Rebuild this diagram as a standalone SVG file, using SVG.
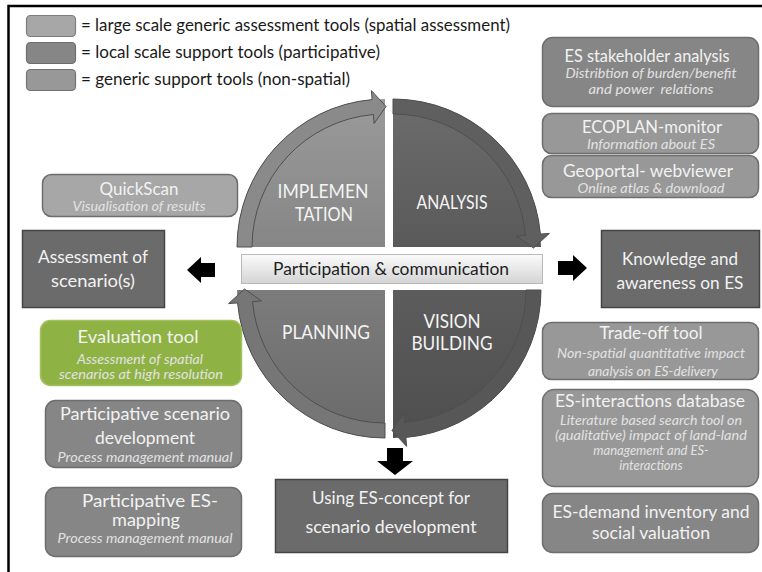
<svg xmlns="http://www.w3.org/2000/svg" width="762" height="572" viewBox="0 0 762 572">
  <defs>
    <style>
      text { font-family: Lato, "Open Sans", "Liberation Sans", sans-serif; text-anchor: middle; }
      .legend { font-size: 16.5px; fill: #1a1a1a; text-anchor: start; }
      .ttl { font-size: 17px; fill: #f2f2f2; }
      .sub { font-size: 13px; font-style: italic; fill: #e2e2e2; }
      .big { font-size: 18px; fill: #f2f2f2; }
      .phase { font-size: 19.5px; fill: #f4f4f4; }
      .box { stroke: #6e6e6e; stroke-width: 1.5; }
      .light { fill: #a7a7a7; }
      .mid { fill: #989898; }
      .local { fill: #868686; }
      .dark { fill: #6b6b6b; stroke: #454545; stroke-width: 1.5; }
      .green { fill: #8fb244; stroke: #a3c25c; stroke-width: 1.5; }
      .band { stroke: #4f4f4f; stroke-width: 1; }
      .blk { fill: #000; }
    </style>
    <linearGradient id="barGrad" x1="0" y1="0" x2="0" y2="1">
      <stop offset="0" stop-color="#fbfbfb"/>
      <stop offset="1" stop-color="#d4d4d4"/>
    </linearGradient>
    <linearGradient id="gImpl" x1="0" y1="0" x2="0" y2="1">
      <stop offset="0" stop-color="#9a9a9a"/>
      <stop offset="1" stop-color="#868686"/>
    </linearGradient>
    <linearGradient id="gAna" x1="0" y1="0" x2="0" y2="1">
      <stop offset="0" stop-color="#6c6c6c"/>
      <stop offset="1" stop-color="#5a5a5a"/>
    </linearGradient>
    <linearGradient id="gPlan" x1="0" y1="0" x2="0" y2="1">
      <stop offset="0" stop-color="#7c7c7c"/>
      <stop offset="1" stop-color="#6a6a6a"/>
    </linearGradient>
    <linearGradient id="gVis" x1="0" y1="0" x2="0" y2="1">
      <stop offset="0" stop-color="#5c5c5c"/>
      <stop offset="1" stop-color="#4e4e4e"/>
    </linearGradient>
  </defs>

  <rect width="762" height="572" fill="#ffffff"/>
  <!-- frame (open on right and bottom) -->
  <path d="M8.5,572 V6 H762" fill="none" stroke="#000" stroke-width="2.5"/>

  <!-- legend -->
  <g id="legend">
    <rect x="26.5" y="15.5" width="49" height="21" rx="4" class="light" stroke="#7d7d7d" stroke-width="1.2"/>
    <rect x="26.5" y="42.5" width="49" height="21" rx="4" class="local" stroke="#6d6d6d" stroke-width="1.2"/>
    <rect x="26.5" y="69.5" width="49" height="21" rx="4" class="mid" stroke="#747474" stroke-width="1.2"/>
    <text class="legend" x="81" y="31" textLength="429" lengthAdjust="spacingAndGlyphs">= large scale generic assessment tools (spatial assessment)</text>
    <text class="legend" x="81" y="58" textLength="299" lengthAdjust="spacingAndGlyphs">= local scale support tools (participative)</text>
    <text class="legend" x="81" y="85" textLength="269" lengthAdjust="spacingAndGlyphs">= generic support tools (non-spatial)</text>
  </g>

  <!-- cycle quadrants -->
  <g id="implementation">
    <path d="M385,247 L237,247 A148,148 0 0 1 385,99 Z" fill="url(#gImpl)"/>
    <text class="phase" x="323" y="198" textLength="91" lengthAdjust="spacingAndGlyphs">IMPLEMEN</text>
    <text class="phase" x="324" y="221" textLength="58" lengthAdjust="spacingAndGlyphs">TATION</text>
  </g>
  <g id="analysis">
    <path d="M393,247 L393,99 A148,148 0 0 1 541,247 Z" fill="url(#gAna)"/>
    <text class="phase" x="452" y="209" textLength="71" lengthAdjust="spacingAndGlyphs">ANALYSIS</text>
  </g>
  <g id="planning">
    <path d="M385,290 L385,438 A148,148 0 0 1 237,290 Z" fill="url(#gPlan)"/>
    <text class="phase" x="326" y="339" textLength="88" lengthAdjust="spacingAndGlyphs">PLANNING</text>
  </g>
  <g id="vision-building">
    <path d="M393,290 L541,290 A148,148 0 0 1 393,438 Z" fill="url(#gVis)"/>
    <text class="phase" x="452" y="328" textLength="57" lengthAdjust="spacingAndGlyphs">VISION</text>
    <text class="phase" x="452" y="350" textLength="81" lengthAdjust="spacingAndGlyphs">BUILDING</text>
  </g>

  <g id="participation">
    <rect x="241.5" y="254.5" width="301" height="29" fill="url(#barGrad)" stroke="#b8b8b8" stroke-width="1"/>
    <text x="391" y="275" font-size="17" fill="#1e1e1e" textLength="236" lengthAdjust="spacingAndGlyphs">Participation &amp; communication</text>
  </g>

  <!-- connectors: cycle arrows and outcome arrows -->
  <g id="connectors">
    <path class="band" fill="#8a8a8a" d="M237,247 A148,148 0 0 1 372.1,99.6 L371.4,90.6 L386,106.5 L374.1,123.5 L373.4,114.5 A133,133 0 0 0 252,247 Z"/>
    <path class="band" fill="#5f5f5f" d="M393,99 A148,148 0 0 1 540.4,234.1 L549.4,233.4 L533.5,248 L516.5,236.1 L525.5,235.4 A133,133 0 0 0 393,114 Z"/>
    <path class="band" fill="#767676" d="M385,438 A148,148 0 0 1 237.6,302.9 L228.6,303.6 L244.5,289 L261.5,300.9 L252.5,301.6 A133,133 0 0 0 385,423 Z"/>
    <path class="band" fill="#575757" d="M541,290 A148,148 0 0 1 405.9,437.4 L406.6,446.4 L392,430.5 L403.9,413.5 L404.6,422.5 A133,133 0 0 0 526,290 Z"/>

    <polygon class="blk" points="187,270 201,257 201,263 215,263 215,277 201,277 201,283"/>
    <polygon class="blk" points="587,268 573,255 573,261 558,261 558,275 573,275 573,281"/>
    <polygon class="blk" points="395,475 377,461 387,461 387,448 403,448 403,461 413,461"/>
  </g>

  <!-- right column -->
  <g id="es-stakeholder-analysis">
    <rect x="542.5" y="37.5" width="216" height="69" rx="10" class="box local"/>
    <text class="ttl" x="647" y="62" textLength="165" lengthAdjust="spacingAndGlyphs">ES stakeholder analysis</text>
    <text class="sub" x="651" y="78" textLength="171" lengthAdjust="spacingAndGlyphs">Distribtion of burden/benefit</text>
    <text class="sub" x="651" y="94" style="white-space:pre" textLength="125" lengthAdjust="spacingAndGlyphs">and power  relations</text>
  </g>
  <g id="ecoplan-monitor">
    <rect x="542.5" y="113.5" width="216" height="40" rx="9" class="box mid"/>
    <text class="ttl" x="652" y="133" textLength="140" lengthAdjust="spacingAndGlyphs">ECOPLAN-monitor</text>
    <text class="sub" x="651" y="149" textLength="128" lengthAdjust="spacingAndGlyphs">Information about ES</text>
  </g>
  <g id="geoportal-webviewer">
    <rect x="542.5" y="155.5" width="216" height="42" rx="9" class="box mid"/>
    <text class="ttl" x="648" y="177" textLength="170" lengthAdjust="spacingAndGlyphs">Geoportal- webviewer</text>
    <text class="sub" x="651" y="193" textLength="147" lengthAdjust="spacingAndGlyphs">Online atlas &amp; download</text>
  </g>
  <g id="knowledge-awareness">
    <rect x="601.5" y="230.5" width="158" height="77" class="dark"/>
    <text class="big" x="680" y="265" textLength="116" lengthAdjust="spacingAndGlyphs">Knowledge and</text>
    <text class="big" x="680" y="289" textLength="127" lengthAdjust="spacingAndGlyphs">awareness on ES</text>
  </g>
  <g id="trade-off-tool">
    <rect x="542.5" y="322.5" width="216" height="57" rx="9" class="box mid"/>
    <text class="ttl" x="651" y="339" textLength="103" lengthAdjust="spacingAndGlyphs">Trade-off tool</text>
    <text class="sub" x="651" y="358" textLength="188" lengthAdjust="spacingAndGlyphs">Non-spatial quantitative impact</text>
    <text class="sub" x="653" y="376" textLength="130" lengthAdjust="spacingAndGlyphs">analysis on ES-delivery</text>
  </g>
  <g id="es-interactions-database">
    <rect x="542.5" y="389.5" width="216" height="97" rx="12" class="box mid"/>
    <text class="ttl" x="650" y="407" textLength="190" lengthAdjust="spacingAndGlyphs">ES-interactions database</text>
    <text class="sub" x="651" y="425" textLength="182" lengthAdjust="spacingAndGlyphs">Literature based search tool on</text>
    <text class="sub" x="651" y="440" textLength="192" lengthAdjust="spacingAndGlyphs">(qualitative) impact of land-land</text>
    <text class="sub" x="651" y="455">management and ES-</text>
    <text class="sub" x="651" y="470">interactions</text>
  </g>
  <g id="es-demand-inventory">
    <rect x="542.5" y="493.5" width="216" height="59" rx="10" class="box local"/>
    <text class="ttl" x="651" y="518" textLength="197" lengthAdjust="spacingAndGlyphs">ES-demand inventory and</text>
    <text class="ttl" x="651" y="539" textLength="118" lengthAdjust="spacingAndGlyphs">social valuation</text>
  </g>

  <!-- left column -->
  <g id="quickscan">
    <rect x="42.5" y="174.5" width="195" height="42" rx="9" class="box light" stroke="#858585"/>
    <text class="ttl" x="139" y="195" textLength="79" lengthAdjust="spacingAndGlyphs">QuickScan</text>
    <text class="sub" x="139" y="211" textLength="133" lengthAdjust="spacingAndGlyphs">Visualisation of results</text>
  </g>
  <g id="assessment-of-scenarios">
    <rect x="22.5" y="230.5" width="142" height="77" class="dark"/>
    <text class="big" x="93" y="263" textLength="110" lengthAdjust="spacingAndGlyphs">Assessment of</text>
    <text class="big" x="93" y="287" textLength="84" lengthAdjust="spacingAndGlyphs">scenario(s)</text>
  </g>
  <g id="evaluation-tool">
    <rect x="40.5" y="320.5" width="201" height="65" rx="10" class="green"/>
    <text class="ttl" x="138" y="343" textLength="121" lengthAdjust="spacingAndGlyphs">Evaluation tool</text>
    <text class="sub" x="140" y="364" textLength="126" lengthAdjust="spacingAndGlyphs">Assessment of spatial</text>
    <text class="sub" x="141" y="379" textLength="164" lengthAdjust="spacingAndGlyphs">scenarios at high resolution</text>
  </g>
  <g id="participative-scenario-development">
    <rect x="45.5" y="400.5" width="196" height="67" rx="10" class="box local"/>
    <text class="ttl" x="145" y="420" textLength="170" lengthAdjust="spacingAndGlyphs">Participative scenario</text>
    <text class="ttl" x="145" y="444" textLength="100" lengthAdjust="spacingAndGlyphs">development</text>
    <text class="sub" x="145" y="462" textLength="175" lengthAdjust="spacingAndGlyphs">Process management manual</text>
  </g>
  <g id="participative-es-mapping">
    <rect x="45.5" y="487.5" width="196" height="69" rx="10" class="box local"/>
    <text class="ttl" x="150" y="507" textLength="136" lengthAdjust="spacingAndGlyphs">Participative ES-</text>
    <text class="ttl" x="146" y="526" textLength="68" lengthAdjust="spacingAndGlyphs">mapping</text>
    <text class="sub" x="145" y="543" textLength="175" lengthAdjust="spacingAndGlyphs">Process management manual</text>
  </g>

  <!-- bottom outcome -->
  <g id="using-es-concept">
    <rect x="275.5" y="479.5" width="232" height="73" class="dark"/>
    <text class="big" x="391" y="504" textLength="158" lengthAdjust="spacingAndGlyphs">Using ES-concept for</text>
    <text class="big" x="391" y="533" textLength="171" lengthAdjust="spacingAndGlyphs">scenario development</text>
  </g>
</svg>
